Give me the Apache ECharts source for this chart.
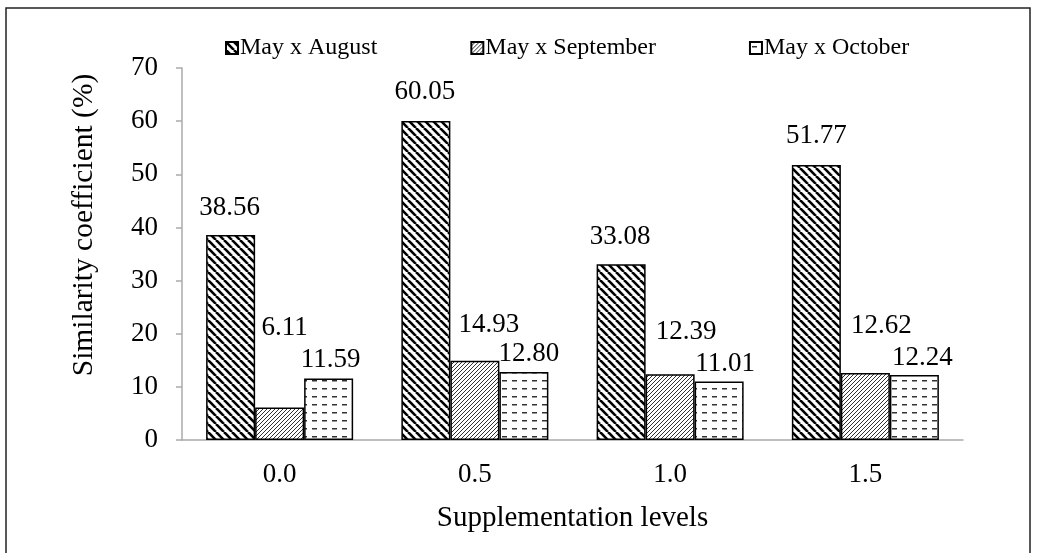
<!DOCTYPE html>
<html>
<head>
<meta charset="utf-8">
<script src="https://cdn.jsdelivr.net/npm/echarts@6/dist/echarts.min.js"></script>
<style>
  html, body { margin: 0; padding: 0; background: #fff; }
  #chart { width: 1038px; height: 553px; }
</style>
</head>
<body>
<div id="chart"></div>
<script>
// data
const levels = ['0.0', '0.5', '1.0', '1.5']
const seriesNames = ['May x August', 'May x September', 'May x October']
const mayAugust = [38.56, 60.05, 33.08, 51.77]
const maySeptember = [6.11, 14.93, 12.39, 12.62]
const mayOctober = [11.59, 12.80, 11.01, 12.24]
const yTicks = { min: 0, max: 70, interval: 10 }

// label nudges (the original labels were placed by hand)
const labelOffsets = [
  [[-1, -14], [-1, -15], [-1, -14], [0, -15]],
  [[5, -66], [14, -22], [16, -29], [16, -34]],
  [[2, -5], [5, -5], [6, -4], [8, -4]],
]

const serif = '"Liberation Serif", "Times New Roman", serif'

// hatch fills
function makePattern(kind) {
  const c = document.createElement('canvas')
  const w = kind === 'back' ? 8 : kind === 'fwd' ? 4 : 10
  const h = kind === 'fwd' ? 4 : 8
  c.width = w
  c.height = h
  const ctx = c.getContext('2d')
  ctx.fillStyle = '#fff'
  ctx.fillRect(0, 0, w, h)
  if (kind === 'back') {
    ctx.strokeStyle = '#000'
    ctx.lineWidth = 2.6
    for (const o of [-8, 0, 8]) {
      ctx.beginPath()
      ctx.moveTo(o, 0)
      ctx.lineTo(o + 8, 8)
      ctx.stroke()
    }
  } else if (kind === 'fwd') {
    ctx.strokeStyle = '#333'
    ctx.lineWidth = 1
    for (const o of [-4, 0, 4]) {
      ctx.beginPath()
      ctx.moveTo(o, 4)
      ctx.lineTo(o + 4, 0)
      ctx.stroke()
    }
  } else {
    ctx.fillStyle = '#333'
    ctx.fillRect(2, 4, 5, 1.5)
  }
  return { image: c, repeat: 'repeat' }
}

const fills = [makePattern('back'), makePattern('fwd'), makePattern('dash')]
const values = [mayAugust, maySeptember, mayOctober]

const chart = echarts.init(document.getElementById('chart'))

const option = {
  animation: false,
  graphic: [
    {
      type: 'rect',
      shape: { x: 6, y: 8, width: 1024, height: 570 },
      style: { fill: 'none', stroke: '#222', lineWidth: 1.5 },
      silent: true,
    },
  ],
  legend: {
    left: 220,
    top: 31,
    itemWidth: 12,
    itemHeight: 12,
    itemGap: 93,
    icon: 'rect',
    data: seriesNames,
    textStyle: { fontFamily: serif, fontSize: 24, color: '#000', padding: [0, 0, 0, -3] },
  },
  grid: {
    left: 182,
    right: 75,
    top: 68,
    bottom: 113,
  },
  xAxis: {
    type: 'category',
    data: levels,
    name: 'Supplementation levels',
    nameLocation: 'middle',
    nameGap: 64,
    nameTextStyle: { fontFamily: serif, fontSize: 29, color: '#000' },
    axisLine: { lineStyle: { color: '#aaa', width: 1.5 } },
    axisTick: { length: 6, lineStyle: { color: '#aaa', width: 1.5 } },
    axisLabel: { fontFamily: serif, fontSize: 27, color: '#000', margin: 21 },
  },
  yAxis: {
    type: 'value',
    min: yTicks.min,
    max: yTicks.max,
    interval: yTicks.interval,
    name: 'Similarity coefficient (%)',
    nameLocation: 'middle',
    nameGap: 83,
    nameTextStyle: { fontFamily: serif, fontSize: 29.5, color: '#000', padding: [0, 0, 0, 58] },
    axisLine: { show: true, lineStyle: { color: '#aaa', width: 1.5 } },
    axisTick: { show: true, length: 6, lineStyle: { color: '#aaa', width: 1.5 } },
    axisLabel: { fontFamily: serif, fontSize: 27, color: '#000', margin: 24 },
    splitLine: { show: false },
  },
  series: seriesNames.map((name, i) => ({
    name,
    type: 'bar',
    barGap: '0%',
    barCategoryGap: '24.7%',
    itemStyle: { color: fills[i], borderColor: '#000', borderWidth: 1.5 },
    data: values[i].map((v, j) => ({
      value: v,
      label: { offset: labelOffsets[i][j] },
    })),
    label: {
      show: true,
      position: 'top',
      distance: 0,
      fontFamily: serif,
      fontSize: 27,
      color: '#000',
      formatter: (p) => p.value.toFixed(2),
    },
  })),
}

chart.setOption(option)
</script>
</body>
</html>
